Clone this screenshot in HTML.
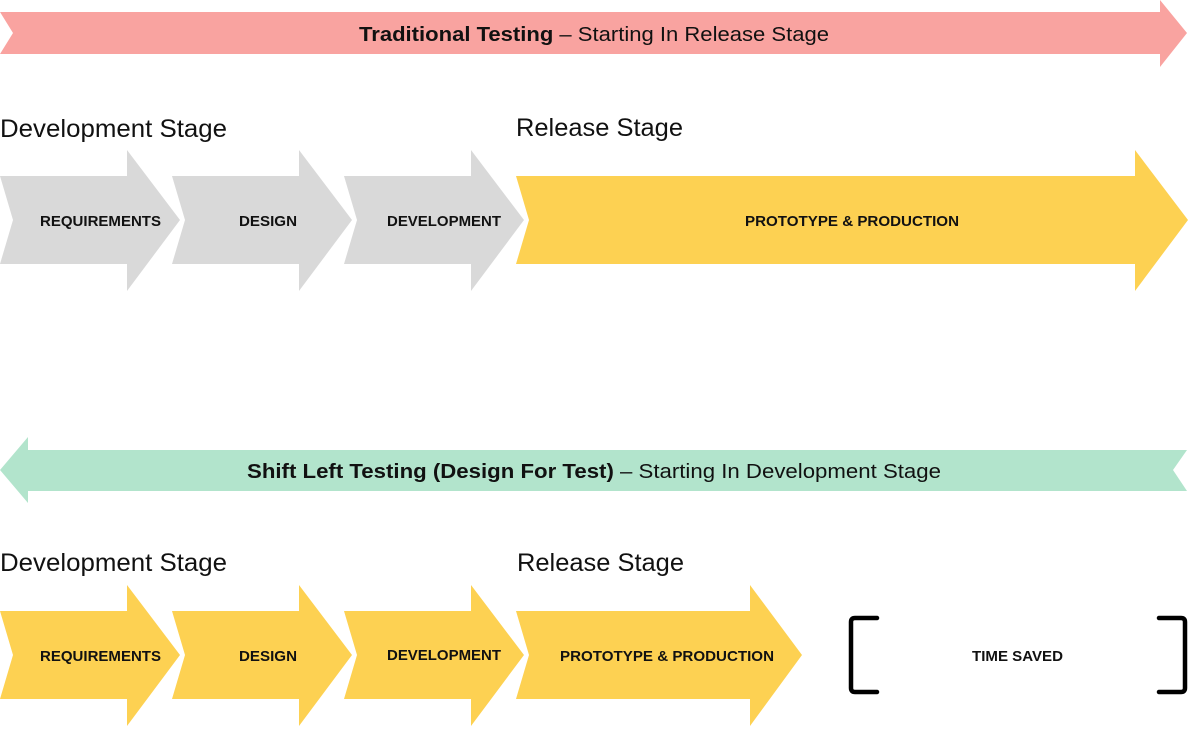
<!DOCTYPE html>
<html><head><meta charset="utf-8"><style>html,body{margin:0;padding:0;background:#fff}svg{display:block}</style></head><body>
<svg width="1189" height="733" viewBox="0 0 1189 733" xmlns="http://www.w3.org/2000/svg" font-family="Liberation Sans, Arial, sans-serif">
<path d="M0,12 L1160,12 L1160,0 L1187,33 L1160,67 L1160,54 L0,54 L13,33 Z" fill="#f9a3a0"/>
<text x="359" y="41" font-size="20" fill="#111" textLength="470" lengthAdjust="spacingAndGlyphs"><tspan font-weight="bold">Traditional Testing</tspan> – Starting In Release Stage</text>
<text x="0" y="137" font-size="25" fill="#111" textLength="227" lengthAdjust="spacingAndGlyphs">Development Stage</text>
<text x="516" y="136" font-size="25" fill="#111" textLength="167" lengthAdjust="spacingAndGlyphs">Release Stage</text>
<g fill="#d9d9d9">
<path d="M0,176 L127,176 L127,150 L180,220 L127,291 L127,264 L0,264 L13,220 Z"/>
<path d="M172,176 L299,176 L299,150 L352,220 L299,291 L299,264 L172,264 L185,220 Z"/>
<path d="M344,176 L471,176 L471,150 L524,220 L471,291 L471,264 L344,264 L357,220 Z"/>
</g>
<path d="M516,176 L1135,176 L1135,150 L1188,220 L1135,291 L1135,264 L516,264 L529,220 Z" fill="#fdd152"/>
<g font-size="15" font-weight="bold" fill="#111" lengthAdjust="spacingAndGlyphs">
<text x="40" y="226" textLength="121" lengthAdjust="spacingAndGlyphs">REQUIREMENTS</text>
<text x="239" y="226" textLength="58" lengthAdjust="spacingAndGlyphs">DESIGN</text>
<text x="387" y="226" textLength="114" lengthAdjust="spacingAndGlyphs">DEVELOPMENT</text>
<text x="745" y="226" textLength="214" lengthAdjust="spacingAndGlyphs">PROTOTYPE &amp; PRODUCTION</text>
</g>
<path d="M0,470 L28,437 L28,450 L1187,450 L1173,470 L1187,491 L28,491 L28,503 Z" fill="#b2e4cc"/>
<text x="247" y="478" font-size="20" fill="#111" textLength="694" lengthAdjust="spacingAndGlyphs"><tspan font-weight="bold">Shift Left Testing (Design For Test)</tspan> – Starting In Development Stage</text>
<text x="0" y="571" font-size="25" fill="#111" textLength="227" lengthAdjust="spacingAndGlyphs">Development Stage</text>
<text x="517" y="571" font-size="25" fill="#111" textLength="167" lengthAdjust="spacingAndGlyphs">Release Stage</text>
<g fill="#fdd152">
<path d="M0,611 L127,611 L127,585 L180,655 L127,726 L127,699 L0,699 L13,655 Z"/>
<path d="M172,611 L299,611 L299,585 L352,655 L299,726 L299,699 L172,699 L185,655 Z"/>
<path d="M344,611 L471,611 L471,585 L524,655 L471,726 L471,699 L344,699 L357,655 Z"/>
<path d="M516,611 L750,611 L750,585 L802,655 L750,726 L750,699 L516,699 L529,655 Z"/>
</g>
<g font-size="15" font-weight="bold" fill="#111">
<text x="40" y="661" textLength="121" lengthAdjust="spacingAndGlyphs">REQUIREMENTS</text>
<text x="239" y="661" textLength="58" lengthAdjust="spacingAndGlyphs">DESIGN</text>
<text x="387" y="660" textLength="114" lengthAdjust="spacingAndGlyphs">DEVELOPMENT</text>
<text x="560" y="661" textLength="214" lengthAdjust="spacingAndGlyphs">PROTOTYPE &amp; PRODUCTION</text>
<text x="972" y="661" textLength="91" lengthAdjust="spacingAndGlyphs">TIME SAVED</text>
</g>
<g fill="none" stroke="#000" stroke-width="4.5" stroke-linecap="round" stroke-linejoin="round">
<path d="M877,618 L855,618 Q851,618 851,622 L851,688 Q851,692 855,692 L877,692"/>
<path d="M1159,618 L1181,618 Q1185,618 1185,622 L1185,688 Q1185,692 1181,692 L1159,692"/>
</g>
</svg>
</body></html>
